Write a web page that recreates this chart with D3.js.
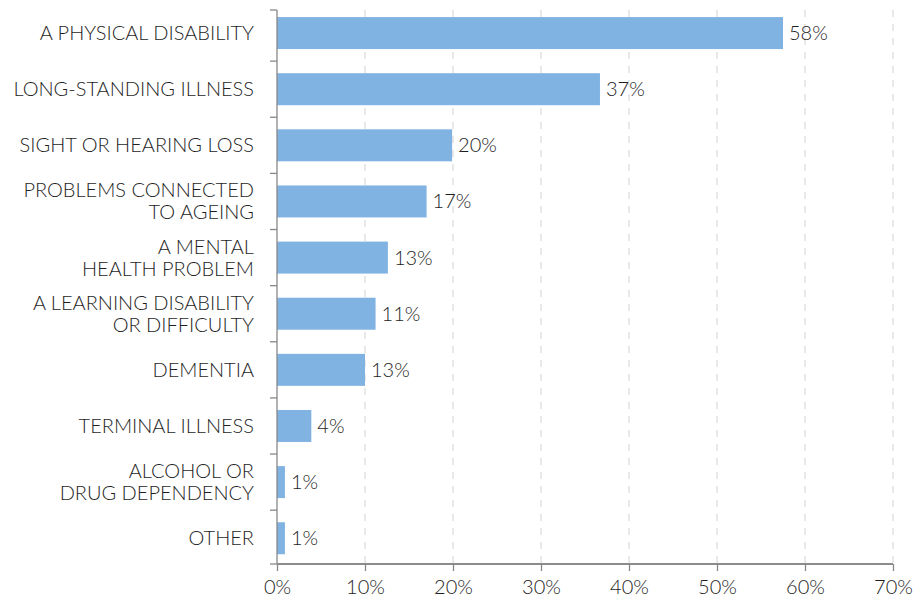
<!DOCTYPE html>
<html>
<head>
<meta charset="utf-8">
<script src="https://cdn.jsdelivr.net/npm/d3@7"></script>
<style>
body { margin: 0; background: #fff; }
text { font-family: Lato, sans-serif; font-weight: 300; fill: #1e1e1e; }
</style>
</head>
<body>
<svg width="914" height="601"></svg>
<script>
const categories = [
  ["A PHYSICAL DISABILITY"],
  ["LONG-STANDING ILLNESS"],
  ["SIGHT OR HEARING LOSS"],
  ["PROBLEMS CONNECTED", "TO AGEING"],
  ["A MENTAL", "HEALTH PROBLEM"],
  ["A LEARNING DISABILITY", "OR DIFFICULTY"],
  ["DEMENTIA"],
  ["TERMINAL ILLNESS"],
  ["ALCOHOL OR", "DRUG DEPENDENCY"],
  ["OTHER"]
];
const values = [57.5, 36.7, 19.9, 17.0, 12.6, 11.2, 10.0, 3.9, 0.9, 0.9];
const valueLabels = ["58%", "37%", "20%", "17%", "13%", "11%", "13%", "4%", "1%", "1%"];
const xTicks = [0, 10, 20, 30, 40, 50, 60, 70];

const margin = { top: 10, right: 20, bottom: 37, left: 277 },
  width = 914 - margin.left - margin.right,
  height = 601 - margin.top - margin.bottom;

const svg = d3.select("svg")
  .append("g")
  .attr("transform", `translate(${margin.left},${margin.top})`);

const x = d3.scaleLinear().domain([0, 70]).range([0, 616]);
const y = d3.scaleBand()
  .domain(d3.range(categories.length))
  .range([0, height])
  .paddingInner(0.43)
  .paddingOuter(0.15)
  .align(0.42);

// dashed grid
svg.append("g")
  .selectAll("line")
  .data(xTicks.slice(1))
  .join("line")
  .attr("x1", d => x(d)).attr("x2", d => x(d))
  .attr("y1", 0).attr("y2", height)
  .attr("stroke", "#ddd")
  .attr("stroke-width", 1.3)
  .attr("stroke-dasharray", "7,7");

// bars
svg.selectAll(".bar")
  .data(values)
  .join("rect")
  .attr("class", "bar")
  .attr("x", 0)
  .attr("y", (d, i) => y(i))
  .attr("width", d => x(d))
  .attr("height", y.bandwidth())
  .attr("fill", "#80b3e2");

svg.selectAll(".val")
  .data(values)
  .join("text")
  .attr("class", "val")
  .attr("x", d => x(d) + 6)
  .attr("y", (d, i) => y(i) + y.bandwidth() / 2)
  .attr("dy", "0.35em")
  .style("font-size", "20px")
  .text((d, i) => valueLabels[i]);

// x axis
const xAxis = svg.append("g")
  .attr("transform", `translate(0,${height})`)
  .call(d3.axisBottom(x).tickValues(xTicks).tickFormat(d => d + "%").tickSize(7).tickPadding(9));
xAxis.select(".domain").attr("stroke", "#666").attr("stroke-width", 1.3).attr("d", `M0,0H${x(70)}`);
xAxis.selectAll(".tick line").attr("stroke", "#888").attr("stroke-width", 1.3);
xAxis.selectAll("text").style("font-size", "20px").attr("fill", "#1e1e1e");

// y axis with ticks between categories
const gap = (y.step() - y.bandwidth()) / 2;
const bounds = [0].concat(d3.range(1, categories.length).map(i => y(i) - gap), [height]);
svg.append("line")
  .attr("x1", 0).attr("x2", 0).attr("y1", 0).attr("y2", height)
  .attr("stroke", "#888").attr("stroke-width", 1.3);
svg.append("g")
  .selectAll("line")
  .data(bounds)
  .join("line")
  .attr("x1", -7).attr("x2", 0)
  .attr("y1", d => d).attr("y2", d => d)
  .attr("stroke", "#888").attr("stroke-width", 1.3);

const labels = svg.selectAll(".cat")
  .data(categories)
  .join("text")
  .attr("class", "cat")
  .attr("text-anchor", "end")
  .style("font-size", "20px")
  .attr("transform", (d, i) => `translate(-23,${y(i) + y.bandwidth() / 2})`);

labels.selectAll("tspan")
  .data(d => d.map((t, j) => ({ t, j, n: d.length })))
  .join("tspan")
  .attr("x", 0)
  .attr("y", d => (d.j - (d.n - 1) / 2) * 22)
  .attr("dy", "0.35em")
  .text(d => d.t);
</script>
</body>
</html>
